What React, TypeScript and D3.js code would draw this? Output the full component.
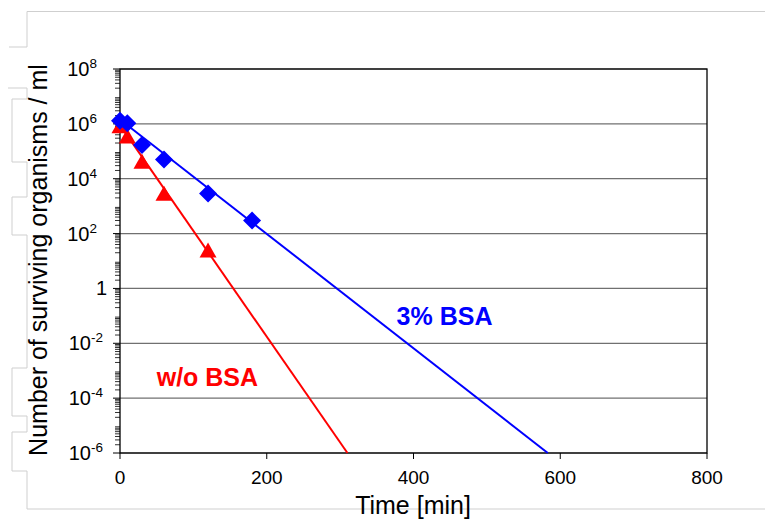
import React from "react";
import * as d3 from "d3";

// ---- data ----
const bsaTime = [0, 10, 30, 60, 120, 180];
const bsaCount = [1.3e6, 1.05e6, 1.7e5, 5e4, 2.9e3, 3e2];
const noBsaTime = [0, 10, 30, 60, 120];
const noBsaCount = [7.5e5, 3.2e5, 3.8e4, 2.6e3, 2.2e1];
const bsaFitTime = [0, 583];
const bsaFitCount = [1.45e6, 1e-6];
const noBsaFitTime = [0, 310];
const noBsaFitCount = [9e5, 1e-6];
const xTicks = [0, 200, 400, 600, 800];
const yExponents = [8, 6, 4, 2, 0, -2, -4, -6];

const W = 765;
const H = 519;
const FONT = "'Liberation Sans', Arial, Helvetica, sans-serif";

export default function App() {
  const x = d3.scaleLinear().domain([0, 800]).range([120, 707]);
  const y = d3.scaleLog().domain([1e-6, 1e8]).range([453, 69]);

  const line = d3
    .line<[number, number]>()
    .x((d) => x(d[0]))
    .y((d) => y(d[1]));

  const bsaFit = line(bsaFitTime.map((t, i) => [t, bsaFitCount[i]] as [number, number]));
  const noBsaFit = line(noBsaFitTime.map((t, i) => [t, noBsaFitCount[i]] as [number, number]));

  const minor: number[] = [];
  for (let e = -6; e < 8; e++) {
    for (let k = 2; k <= 9; k++) minor.push(k * Math.pow(10, e));
  }

  // decorative frame (light gray staircase outline)
  const frame =
    "M765,11.5 L27,11.5 L27,47 M9,47 L27,47 " +
    "M8,88 L27,88 L27,99 L12,99 L12,162 L27,162 L27,197 L12,197 L12,235 L27,235 L27,368 L12,368 L12,416 L27,416 L27,432 L12,432 L12,471 L27,471 L27,509 L765,509";

  const diamond = "M0,-9 L9,0 L0,9 L-9,0 Z";
  const tri = "M0,-9 L8.5,6 L-8.5,6 Z";

  return (
    <svg
      width={W}
      height={H}
      style={{ position: "absolute", left: 0, top: 0, background: "#fff" }}
      fontFamily={FONT}
    >
      <rect x={0} y={0} width={W} height={H} fill="#fff" />
      <path d={frame} fill="none" stroke="#cfcfcf" strokeWidth={1} />

      {/* gridlines */}
      {yExponents.map((e) => (
        <line
          key={"g" + e}
          x1={120}
          x2={707}
          y1={y(Math.pow(10, e))}
          y2={y(Math.pow(10, e))}
          stroke="#707070"
          strokeWidth={1.2}
        />
      ))}

      {/* minor y ticks */}
      {minor.map((v, i) => (
        <line key={"m" + i} x1={115} x2={120} y1={y(v)} y2={y(v)} stroke="#333" strokeWidth={1} />
      ))}
      {yExponents.map((e) => (
        <line
          key={"t" + e}
          x1={113}
          x2={120}
          y1={y(Math.pow(10, e))}
          y2={y(Math.pow(10, e))}
          stroke="#000"
          strokeWidth={1}
        />
      ))}

      {/* x ticks */}
      {xTicks.map((t) => (
        <g key={"x" + t}>
          <line x1={x(t)} x2={x(t)} y1={453} y2={459} stroke="#000" strokeWidth={1} />
          <text x={x(t)} y={484} textAnchor="middle" fontSize={19} fill="#000">
            {t}
          </text>
        </g>
      ))}

      {/* y tick labels */}
      {yExponents.map((e) =>
        e === 0 ? (
          <text key={"l" + e} x={107} y={y(1) + 7} textAnchor="end" fontSize={20} fill="#000">
            1
          </text>
        ) : (
          <text key={"l" + e} x={e < 0 ? 103 : 97} y={y(Math.pow(10, e)) + 7} textAnchor="end" fontSize={20} fill="#000">
            <tspan>10</tspan>
            <tspan dy={-8} fontSize={13.5}>
              {e}
            </tspan>
          </text>
        )
      )}

      {/* plot frame */}
      <rect x={120} y={69} width={587} height={384} fill="none" stroke="#000" strokeWidth={1.3} />

      {/* fit lines */}
      <path d={noBsaFit ?? ""} fill="none" stroke="#ff0000" strokeWidth={2} />
      <path d={bsaFit ?? ""} fill="none" stroke="#0000ff" strokeWidth={2} />

      {/* markers */}
      {noBsaTime.map((t, i) => (
        <path key={"r" + i} d={tri} transform={`translate(${x(t)},${y(noBsaCount[i])})`} fill="#ff0000" />
      ))}
      {bsaTime.map((t, i) => (
        <path key={"b" + i} d={diamond} transform={`translate(${x(t)},${y(bsaCount[i])})`} fill="#0000ff" />
      ))}

      {/* annotations */}
      <text x={x(377)} y={y(Math.pow(10, -1.35))} fontSize={25} fontWeight="bold" fill="#0000ff">
        3% BSA
      </text>
      <text x={x(50)} y={y(Math.pow(10, -3.57))} fontSize={25} fontWeight="bold" fill="#ff0000">
        w/o BSA
      </text>

      {/* axis titles */}
      <text x={413} y={514} textAnchor="middle" fontSize={25} fill="#000">
        Time [min]
      </text>
      <text
        transform="translate(47,260) rotate(-90)"
        textAnchor="middle"
        fontSize={25}
        fill="#000"
      >
        Number of surviving organisms / ml
      </text>
    </svg>
  );
}
